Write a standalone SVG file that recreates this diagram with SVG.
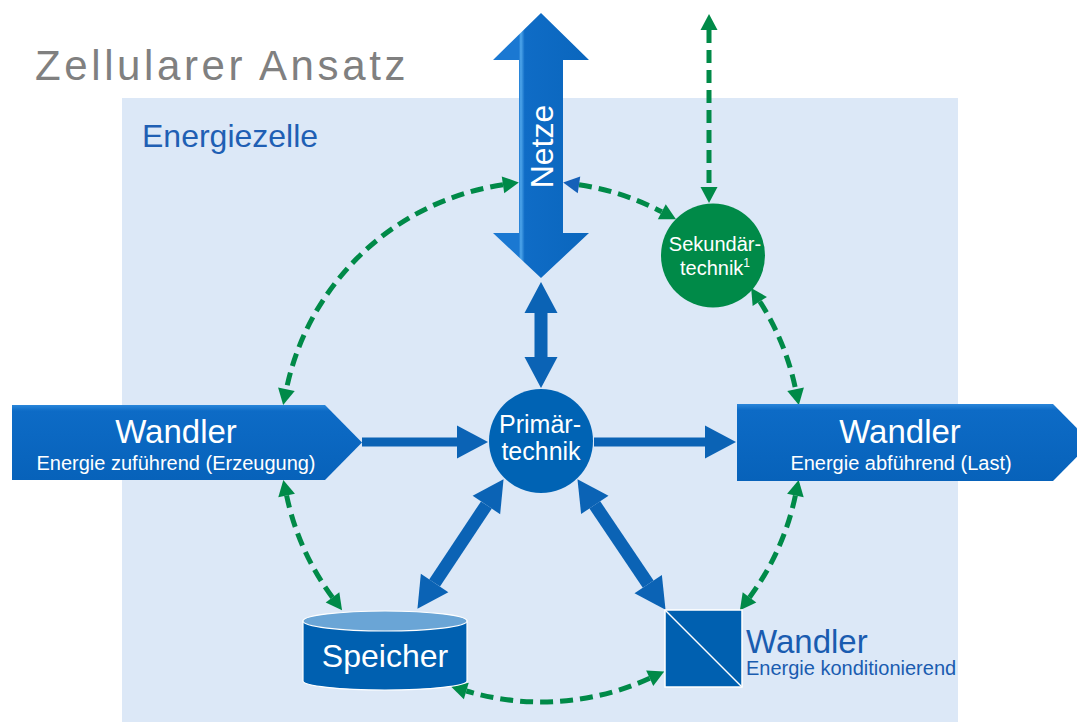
<svg xmlns="http://www.w3.org/2000/svg" width="1077" height="722" viewBox="0 0 1077 722">
<style>
.t{font-family:"Liberation Sans",Arial,sans-serif}
.w{fill:#fff}
.dash{fill:none;stroke:#008a48;stroke-width:5;stroke-dasharray:13 7;marker-start:url(#gh);marker-end:url(#gh)}
.blue{stroke:#0b63b5;stroke-width:13;marker-start:url(#bh);marker-end:url(#bh)}
.blue1{stroke:#0b63b5;stroke-width:9;marker-end:url(#bh)}
</style>
<defs>
<marker id="gh" markerUnits="userSpaceOnUse" markerWidth="20" markerHeight="20" viewBox="0 -10 17 20" refX="0" refY="0" orient="auto-start-reverse" overflow="visible"><path d="M0,-8.5 L16,0 L0,8.5 z" fill="#008a48"/></marker>
<marker id="ghb" markerUnits="userSpaceOnUse" markerWidth="20" markerHeight="20" viewBox="0 -10 17 20" refX="0" refY="0" orient="auto-start-reverse" overflow="visible"><path d="M0,-8.5 L16,0 L0,8.5 z" fill="#1560b8"/></marker>
<marker id="bh" markerUnits="userSpaceOnUse" markerWidth="40" markerHeight="40" viewBox="0 -20 35 40" refX="0" refY="0" orient="auto-start-reverse" overflow="visible"><path d="M0,-16.5 L31,0 L0,16.5 z" fill="#0b63b5"/></marker>
<linearGradient id="ng" x1="0" y1="0" x2="1" y2="0">
<stop offset="0" stop-color="#1a78d2"/><stop offset="0.27" stop-color="#1a78d2"/><stop offset="0.29" stop-color="#4fa6ea"/><stop offset="0.33" stop-color="#0f6cc6"/><stop offset="1" stop-color="#0a66bd"/>
</linearGradient>
<linearGradient id="wg" x1="0" y1="0" x2="0" y2="1">
<stop offset="0" stop-color="#2a86da"/><stop offset="0.08" stop-color="#0d6bc6"/><stop offset="1" stop-color="#0762ba"/>
</linearGradient>
</defs>

<rect x="122" y="98" width="836" height="624" fill="#dce8f7"/>
<text class="t" x="35" y="80" font-size="42" letter-spacing="3.6" fill="#808080">Zellularer Ansatz</text>
<text class="t" x="142" y="147" font-size="32" fill="#1f5fb4">Energiezelle</text>

<g id="connectors">
<path class="dash" d="M503,184.8 A260,260 0 0 0 286.4,389.3"/>
<path class="dash" d="M579,184.8 A260,260 0 0 1 661.8,211.8" style="marker-start:url(#ghb)"/>
<path class="dash" d="M759.8,301.5 A260,260 0 0 1 795.6,389.3"/>
<path class="dash" d="M795.4,495.6 A260,260 0 0 1 749.5,597.4"/>
<path class="dash" d="M649.7,678.2 A260,260 0 0 1 466.3,691"/>
<path class="dash" d="M332.5,597.4 A260,260 0 0 1 286.6,495.6"/>
<line class="dash" x1="709" y1="30" x2="709" y2="187"/>
<line class="blue" x1="541" y1="313" x2="541" y2="357"/>
<line class="blue" x1="486.4" y1="505" x2="434.6" y2="583"/>
<line class="blue" x1="594.8" y1="504.9" x2="648.2" y2="584.1"/>
<line class="blue1" x1="362" y1="442" x2="457" y2="442"/>
<line class="blue1" x1="594" y1="442" x2="705" y2="442"/>
</g>

<g id="netze">
<polygon points="541,13 589,60 563,60 563,233 589,233 541,278 493,233 519,233 519,60 493,60" fill="url(#ng)"/>
<text class="t w" transform="translate(553,146.5) rotate(-90)" text-anchor="middle" font-size="32">Netze</text>
</g>

<g id="sekundaertechnik">
<circle cx="713" cy="255.5" r="52" fill="#008a48"/>
<text class="t w" x="715" y="251" text-anchor="middle" font-size="20">Sekundär-</text>
<text class="t w" x="715" y="275" text-anchor="middle" font-size="20">technik<tspan font-size="12" dy="-8">1</tspan></text>
</g>

<g id="primaertechnik">
<circle cx="541" cy="441" r="52" fill="#0063b4"/>
<text class="t w" x="540" y="433" text-anchor="middle" font-size="25">Primär-</text>
<text class="t w" x="541" y="460" text-anchor="middle" font-size="25">technik</text>
</g>

<g id="wandler-zu">
<polygon points="12,405 325,405 362,442.5 325,480 12,480" fill="url(#wg)"/>
<text class="t w" x="176" y="443" text-anchor="middle" font-size="33">Wandler</text>
<text class="t w" x="176" y="470" text-anchor="middle" font-size="20">Energie zuführend (Erzeugung)</text>
</g>

<g id="wandler-ab">
<polygon points="737,404 1053,404 1091,442.5 1053,481 737,481" fill="url(#wg)"/>
<text class="t w" x="900" y="443" text-anchor="middle" font-size="33">Wandler</text>
<text class="t w" x="901" y="470" text-anchor="middle" font-size="20">Energie abführend (Last)</text>
</g>

<g id="speicher">
<path d="M303,621 L303,681 A82,9 0 0 0 467,681 L467,621 z" fill="#0060b0" stroke="#fff" stroke-width="1.2"/>
<ellipse cx="385" cy="621" rx="82" ry="10" fill="#6aa5d6" stroke="#fff" stroke-width="1.2"/>
<text class="t w" x="385" y="667" text-anchor="middle" font-size="32">Speicher</text>
</g>

<g id="wandler-kond">
<rect x="665" y="610" width="77" height="77" fill="#0060b0" stroke="#fff" stroke-width="1.5"/>
<line x1="665" y1="610" x2="742" y2="687" stroke="#fff" stroke-width="1.5"/>
<text class="t" x="746" y="653" font-size="33" fill="#1a5cb0">Wandler</text>
<text class="t" x="746" y="675" font-size="20" fill="#1a5cb0">Energie konditionierend</text>
</g>
</svg>
